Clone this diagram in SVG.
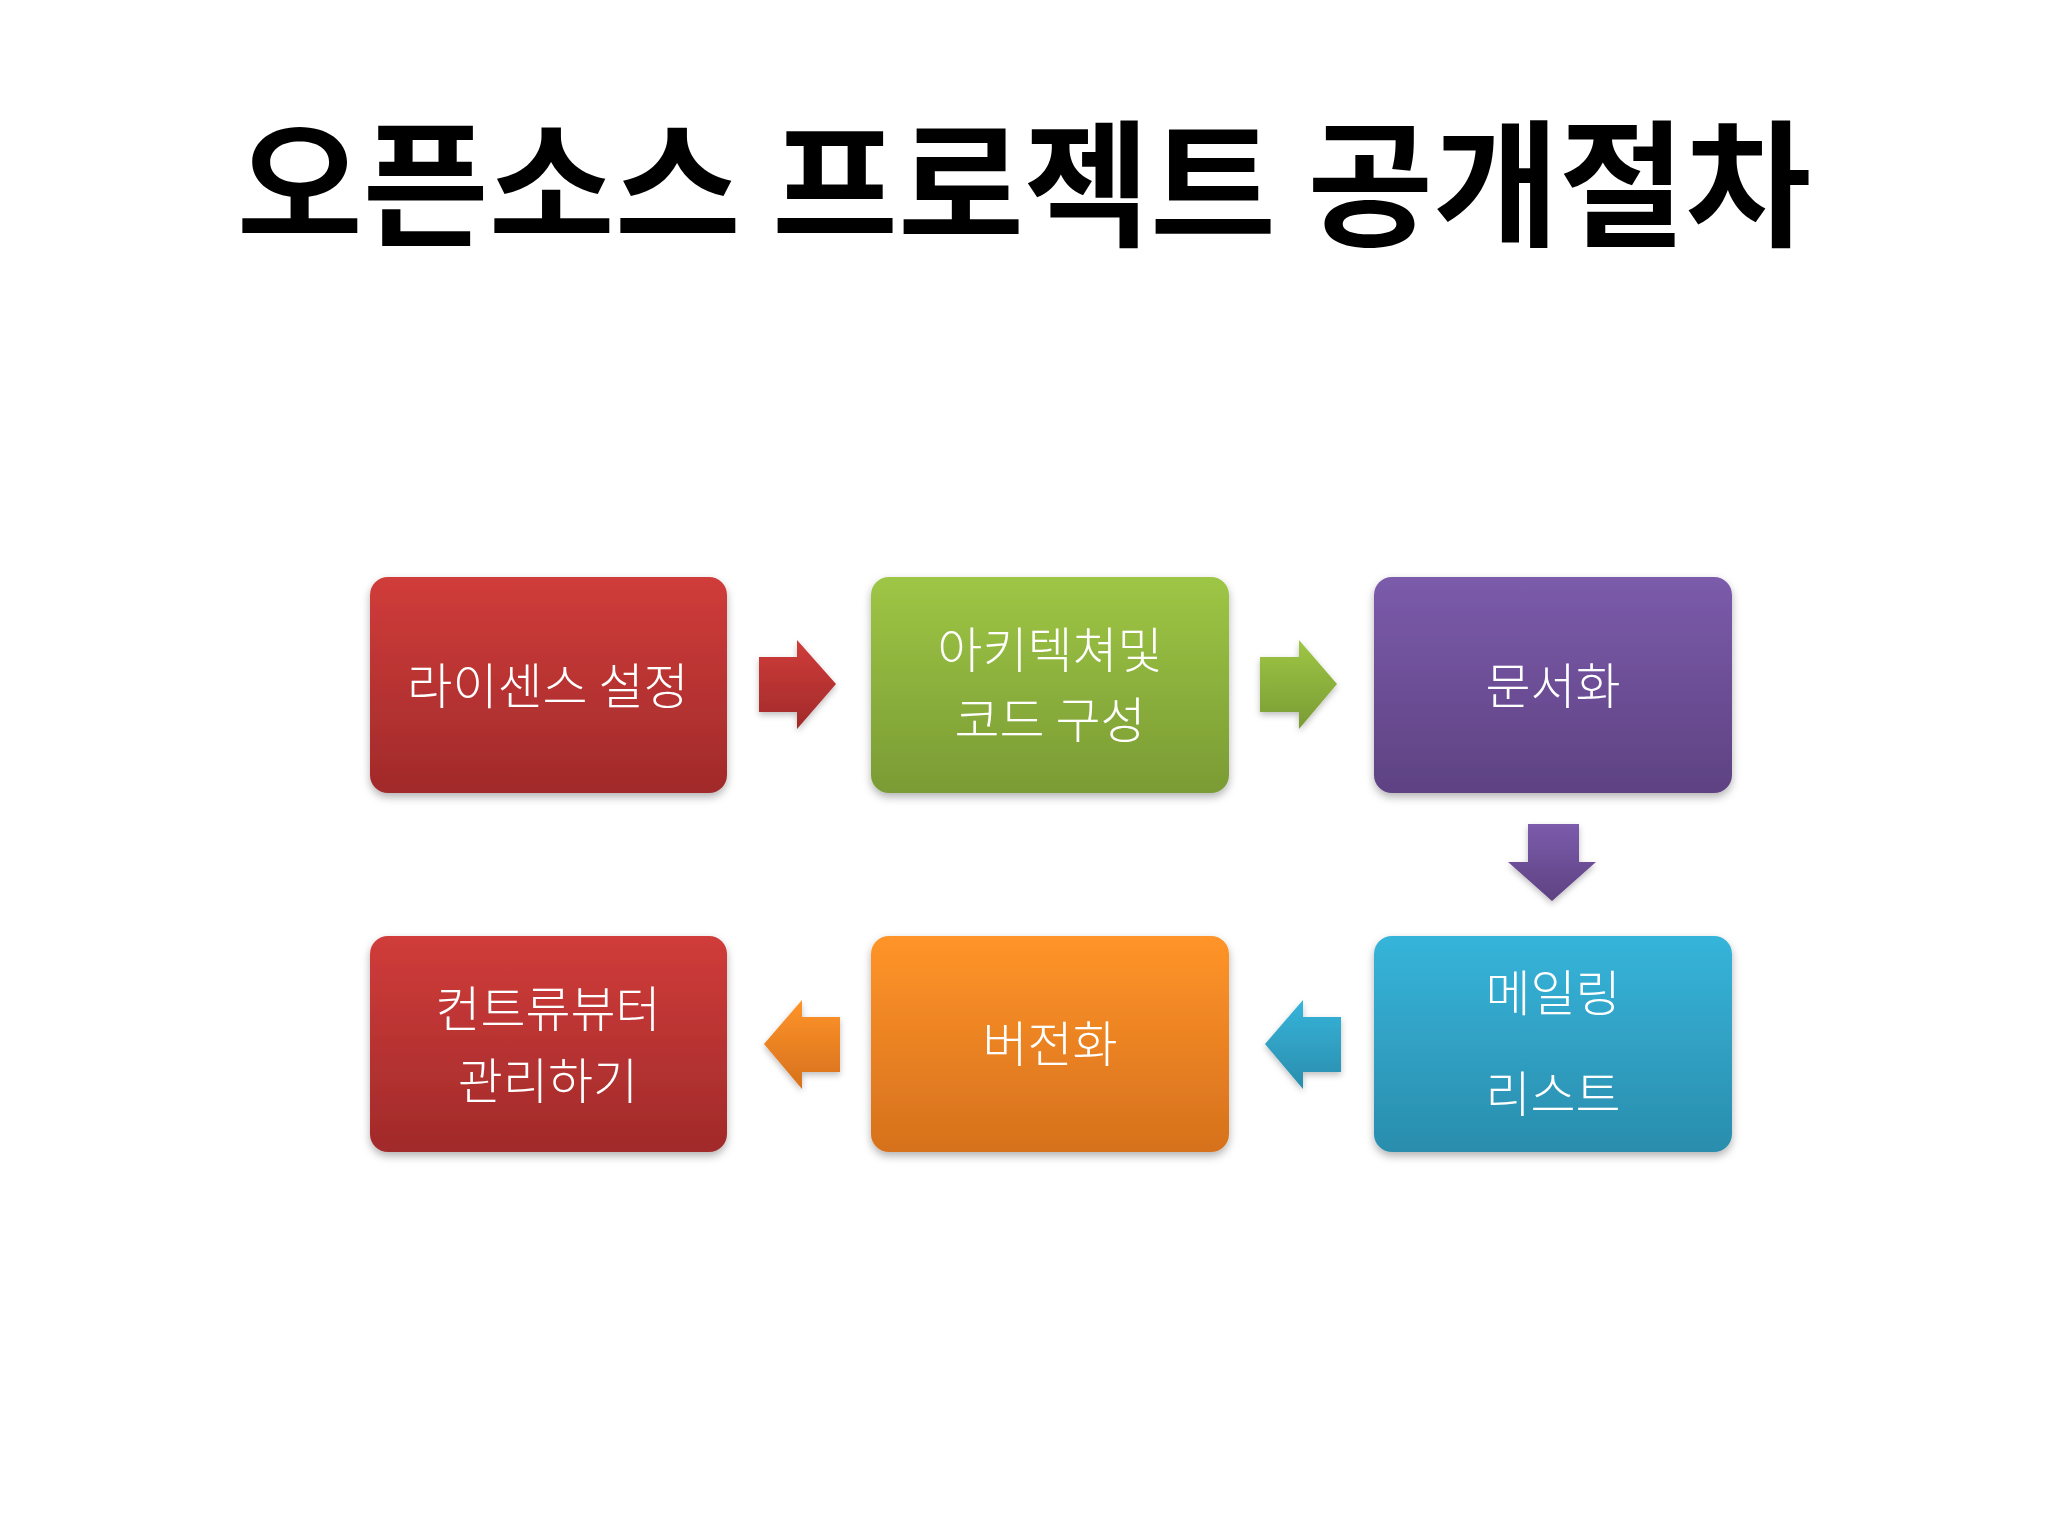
<svg xmlns="http://www.w3.org/2000/svg" width="2048" height="1536" viewBox="0 0 2048 1536">
<style>
.title{font-family:"Noto Sans CJK KR","Noto Sans",sans-serif;font-weight:700;font-size:137px;fill:#000;text-anchor:middle}
.lbl{font-family:"Noto Sans CJK KR","Noto Sans",sans-serif;font-weight:300;font-size:49px;fill:#fff;text-anchor:middle}
.box{filter:url(#sh)}
.arr{filter:url(#sh2)}
</style>
<defs>
<filter id="sh" x="-10%" y="-10%" width="120%" height="130%"><feDropShadow dx="0" dy="4" stdDeviation="4" flood-color="#000" flood-opacity="0.3"/></filter>
<filter id="sh2" x="-20%" y="-20%" width="140%" height="140%"><feDropShadow dx="0" dy="3" stdDeviation="3" flood-color="#000" flood-opacity="0.25"/></filter>
<linearGradient id="gRed" x1="0" y1="0" x2="0" y2="1"><stop offset="0" stop-color="#D03C3A"/><stop offset="1" stop-color="#A12A2A"/></linearGradient>
<linearGradient id="gGreen" x1="0" y1="0" x2="0" y2="1"><stop offset="0" stop-color="#9EC645"/><stop offset="1" stop-color="#7A9B34"/></linearGradient>
<linearGradient id="gPurple" x1="0" y1="0" x2="0" y2="1"><stop offset="0" stop-color="#7B5BAB"/><stop offset="1" stop-color="#5E4282"/></linearGradient>
<linearGradient id="gBlue" x1="0" y1="0" x2="0" y2="1"><stop offset="0" stop-color="#36B4DA"/><stop offset="1" stop-color="#2A8DAD"/></linearGradient>
<linearGradient id="gOrange" x1="0" y1="0" x2="0" y2="1"><stop offset="0" stop-color="#FF9429"/><stop offset="1" stop-color="#D6711D"/></linearGradient>
</defs>
<rect width="2048" height="1536" fill="#fff"/>
<text class="title" x="1024" y="236">오픈소스 프로젝트 공개절차</text>

<g id="connectors">
<polygon class="arr" fill="url(#gRed)" points="759,657 797,657 797,640 836,684 797,729 797,712 759,712"/>
<polygon class="arr" fill="url(#gGreen)" points="1260,657 1299,657 1299,640 1337,684 1299,729 1299,712 1260,712"/>
<polygon class="arr" fill="url(#gPurple)" points="1528,824 1579,824 1579,862 1596,862 1552,901 1508,862 1528,862"/>
<polygon class="arr" fill="url(#gBlue)" points="1341,1017 1303,1017 1303,1000 1265,1044 1303,1089 1303,1072 1341,1072"/>
<polygon class="arr" fill="url(#gOrange)" points="840,1017 802,1017 802,1000 764,1044 802,1089 802,1072 840,1072"/>
</g>

<g id="n1"><rect class="box" x="370" y="577" width="357" height="216" rx="18" fill="url(#gRed)"/><text class="lbl" x="548" y="704">라이센스 설정</text></g>
<g id="n2"><rect class="box" x="871" y="577" width="358" height="216" rx="18" fill="url(#gGreen)"/><text class="lbl" x="1050" y="668">아키텍쳐및</text><text class="lbl" x="1050" y="738">코드 구성</text></g>
<g id="n3"><rect class="box" x="1374" y="577" width="358" height="216" rx="18" fill="url(#gPurple)"/><text class="lbl" x="1553" y="704">문서화</text></g>
<g id="n4"><rect class="box" x="1374" y="936" width="358" height="216" rx="18" fill="url(#gBlue)"/><text class="lbl" x="1553" y="1011">메일링</text><text class="lbl" x="1553" y="1112">리스트</text></g>
<g id="n5"><rect class="box" x="871" y="936" width="358" height="216" rx="18" fill="url(#gOrange)"/><text class="lbl" x="1050" y="1062">버전화</text></g>
<g id="n6"><rect class="box" x="370" y="936" width="357" height="216" rx="18" fill="url(#gRed)"/><text class="lbl" x="548" y="1027">컨트류뷰터</text><text class="lbl" x="548" y="1099">관리하기</text></g>
</svg>
